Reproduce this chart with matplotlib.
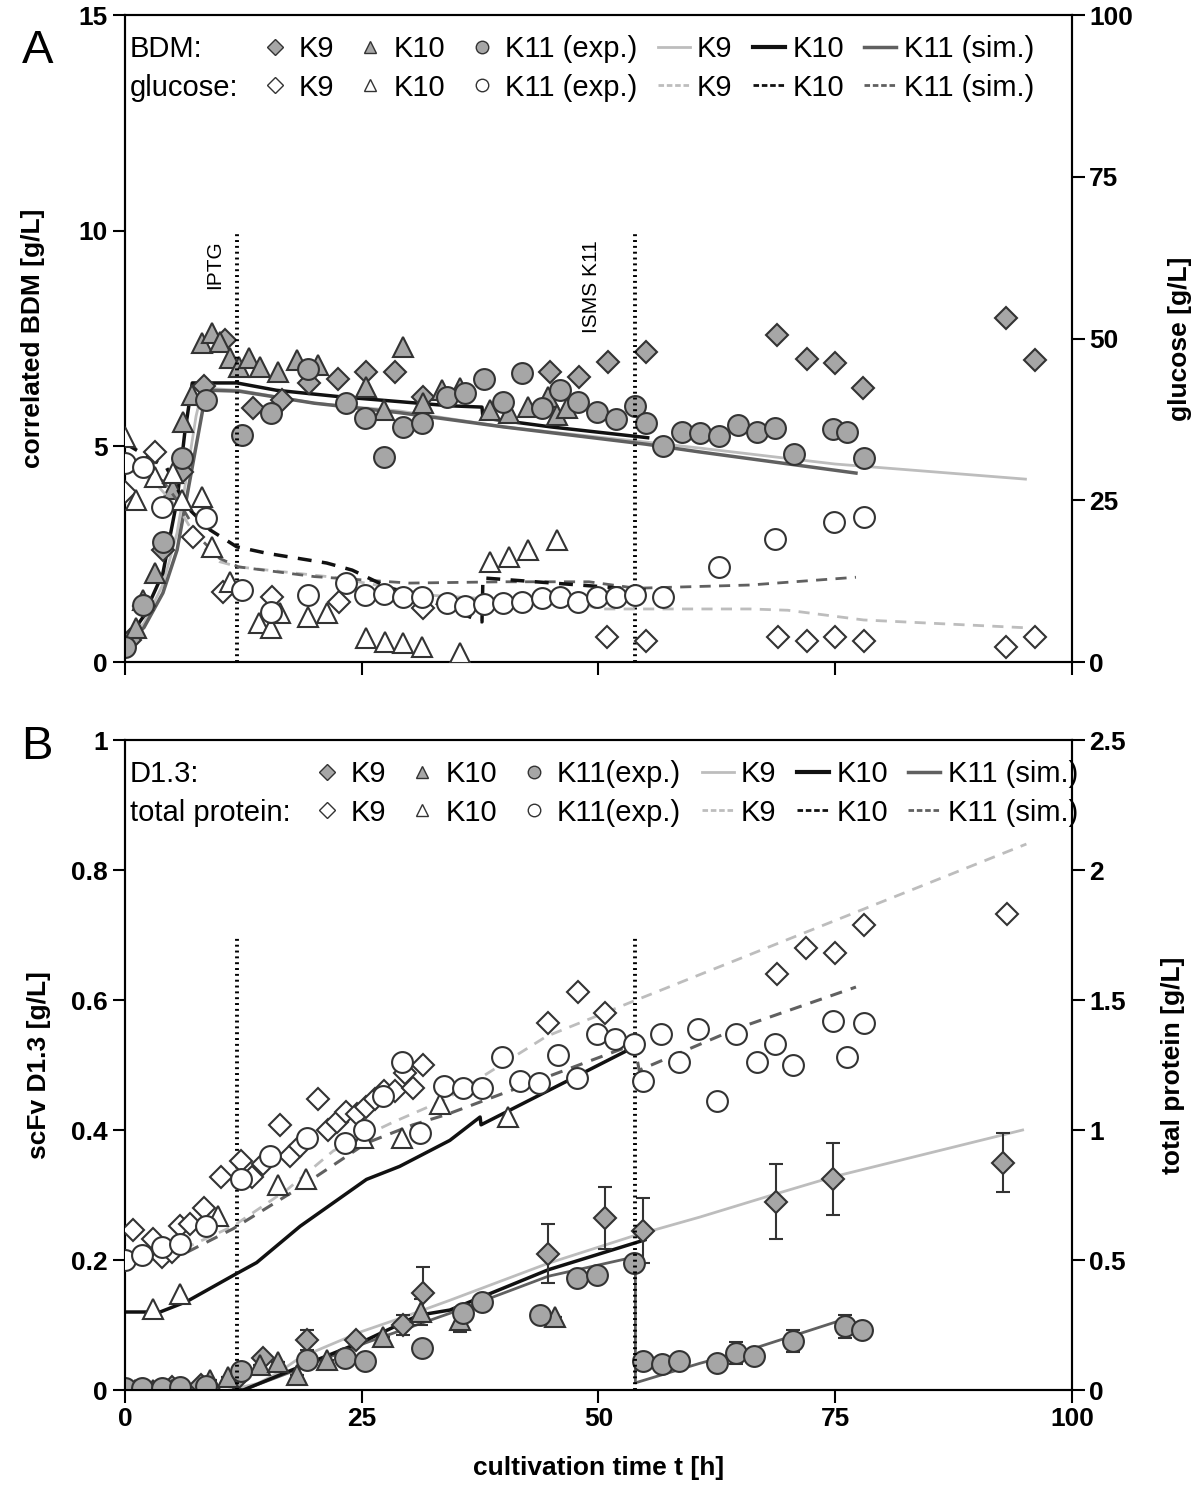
import numpy as np
import matplotlib
matplotlib.use("Agg")
import matplotlib.pyplot as plt
from matplotlib.lines import Line2D

plt.rcParams['font.family'] = ['Liberation Sans', 'DejaVu Sans']

# ---------------- Panel A: biomass (left) and glucose (right) ----------------
# experimental BDM [g/L]
bdm_k9_t = [0.5, 2, 4, 6, 8.3, 10.6, 13.5, 16.6, 19.4, 22.5, 25.5, 28.5, 31.5,
            44.9, 47.9, 51.0, 55.0, 68.9, 72.0, 75.0, 77.9, 93.0, 96.1]
bdm_k9 = [0.5, 1.3, 2.6, 4.4, 6.4, 7.47, 5.9, 6.07, 6.47, 6.56, 6.73, 6.73, 6.15,
          6.73, 6.6, 6.95, 7.19, 7.58, 7.02, 6.93, 6.36, 7.97, 7.0]
bdm_k10_t = [1.2, 1.9, 3.2, 5.1, 6.1, 7.1, 8.1, 9.2, 10.0, 11.1, 12.0, 13.1, 14.3,
             16.2, 18.2, 20.4, 25.5, 27.3, 29.4, 31.5, 33.5, 35.4, 38.5, 40.6,
             42.6, 44.7, 45.6, 46.7]
bdm_k10 = [0.79, 1.43, 2.06, 4.0, 5.56, 6.19, 7.4, 7.63, 7.42, 7.05, 6.85, 7.05, 6.85,
           6.73, 7.0, 6.89, 6.38, 5.84, 7.3, 6.0, 6.3, 6.35, 5.84, 5.77,
           5.92, 6.15, 5.73, 5.9]
bdm_k11_t = [0, 1.9, 4.0, 6.0, 8.6, 12.4, 15.4, 19.3, 23.3, 25.3, 27.3, 29.4, 31.4,
             34.0, 35.9, 37.9, 39.9, 41.9, 44.0, 45.9, 47.8, 49.9, 51.9, 53.9,
             55.0, 56.8, 58.8, 60.7, 62.7, 64.7, 66.7, 68.7, 70.7, 74.8, 76.3, 78.0]
bdm_k11 = [0.35, 1.32, 2.78, 4.73, 6.07, 5.26, 5.77, 6.8, 6.0, 5.66, 4.75, 5.45, 5.54,
           6.15, 6.23, 6.56, 6.03, 6.7, 5.9, 6.3, 6.03, 5.8, 5.63, 5.94,
           5.54, 5.0, 5.33, 5.3, 5.23, 5.5, 5.33, 5.43, 4.82, 5.4, 5.33, 4.73]

# experimental glucose [g/L]
glc_k9_t = [0, 3.2, 7.2, 10.3, 15.5, 22.6, 31.5, 50.9, 55.0, 69.0, 72.0, 75.0, 78.0, 93.0, 96.1]
glc_k9 = [26.3, 32.5, 19.3, 10.8, 10.0, 9.3, 8.3, 3.9, 3.3, 3.9, 3.3, 3.9, 3.3, 2.3, 3.9]
glc_k10_t = [0, 1.2, 3.2, 5.1, 6.0, 8.1, 9.2, 11.1, 14.1, 15.4, 16.4, 19.3, 21.3,
             25.5, 27.5, 29.4, 31.4, 35.4, 38.5, 40.6, 42.6, 45.6]
glc_k10 = [34.8, 25.0, 28.6, 29.2, 25.0, 25.5, 17.8, 12.4, 6.0, 5.2, 7.6, 7.0, 7.6,
           3.7, 3.1, 2.9, 2.3, 1.4, 15.5, 16.2, 17.3, 18.9]
glc_k11_t = [0, 1.9, 3.9, 8.6, 12.4, 15.4, 19.3, 23.3, 25.3, 27.3, 29.4, 31.4, 34.0,
             35.9, 37.9, 39.9, 41.9, 44.0, 45.9, 47.8, 49.9, 51.9, 53.9, 56.8,
             62.7, 68.7, 74.9, 78.0]
glc_k11 = [30.8, 30.2, 24.0, 22.3, 11.1, 7.8, 10.3, 12.2, 10.3, 10.5, 10.1, 10.1, 9.1,
           8.7, 9.0, 9.1, 9.3, 9.9, 10.0, 9.3, 10.0, 10.0, 10.4, 10.0,
           14.7, 19.0, 21.6, 22.4]

# simulated BDM
sim_bdm_k9_t = [0, 2, 4, 5.5, 6.5, 7.5, 8.2, 12, 20, 29, 40, 55, 60.7, 75, 95.1]
sim_bdm_k9 = [0.45, 0.9, 1.8, 3.0, 4.3, 5.7, 6.35, 6.3, 6.0, 5.82, 5.45, 5.1, 4.96, 4.59, 4.24]
sim_bdm_k10_t = [0, 1.9, 4.0, 5.5, 6.3, 7.1, 11.8, 16, 22.7, 34.3, 37.7, 37.8, 45, 55.2]
sim_bdm_k10 = [0.44, 1.04, 2.06, 3.76, 5.3, 6.47, 6.47, 6.3, 6.15, 5.94, 5.91, 5.66, 5.45, 5.2]
sim_bdm_k11_t = [0, 2, 4, 5.5, 6.5, 7.5, 8.5, 9, 12, 20, 29, 40, 55, 60.7, 77.2]
sim_bdm_k11 = [0.4, 0.8, 1.6, 2.6, 3.8, 5.0, 6.2, 6.3, 6.28, 6.0, 5.78, 5.45, 5.05, 4.87, 4.38]

# simulated glucose
sim_glc_k9_t = [0, 3, 6, 8, 10, 12, 22, 32.5, 48.8, 50, 66, 70, 78, 95]
sim_glc_k9 = [30, 28, 23, 18, 15.5, 14.7, 13.1, 10.3, 8.8, 8.2, 8.2, 8.0, 6.5, 5.3]
sim_glc_k10_t = [0, 4.4, 6.5, 9, 11.8, 15, 21.3, 24, 27.7, 32.5, 37.7, 37.8, 48, 55.2]
sim_glc_k10 = [33.8, 30, 24, 20.4, 17.8, 16.8, 15.3, 14.2, 11.6, 9.3, 6.2, 13.0, 11.9, 11.1]
sim_glc_k11_t = [0, 4, 6, 8, 10, 12, 20, 30, 40, 49, 54, 66, 77.2]
sim_glc_k11 = [31, 28, 24, 19, 16, 14.7, 13.2, 12.2, 12.4, 12.4, 11.4, 11.9, 13.1]

# ---------------- Panel B: scFv D1.3 (left) and total protein (right) --------
d13_k9_t = [0, 2, 5, 8, 12, 14.6, 19.2, 24.4, 29.4, 31.5, 44.7, 50.7, 54.7, 68.8, 74.8, 92.7]
d13_k9 = [0.0, 0.0, 0.005, 0.008, 0.02, 0.05, 0.077, 0.077, 0.10, 0.15, 0.21, 0.265,
          0.245, 0.29, 0.325, 0.35]
d13_k9_err = [0, 0, 0, 0, 0, 0, 0.015, 0, 0.015, 0.04, 0.045, 0.048, 0.05, 0.058, 0.055, 0.045]
d13_k10_t = [1, 3, 5, 9, 10.9, 14.3, 16.2, 18.2, 21.3, 27.2, 31.3, 35.4, 45.4]
d13_k10 = [0.0, 0.0, 0.0, 0.015, 0.02, 0.038, 0.043, 0.023, 0.046, 0.082, 0.12, 0.108, 0.113]
d13_k10_err = [0, 0, 0, 0, 0, 0, 0, 0, 0, 0, 0.02, 0.018, 0]
d13_k11_t = [0, 1.8, 3.9, 5.8, 8.6, 12.3, 19.2, 23.2, 25.3, 31.4, 35.7, 37.7, 43.8,
             47.7, 49.8, 53.8, 54.7, 56.7, 58.5, 62.5, 64.5, 66.4, 70.5, 76.0, 77.8]
d13_k11 = [0.003, 0.003, 0.003, 0.004, 0.006, 0.03, 0.046, 0.049, 0.044, 0.065, 0.118,
           0.136, 0.115, 0.172, 0.177, 0.195, 0.044, 0.04, 0.045, 0.042, 0.057, 0.053,
           0.076, 0.098, 0.092]
d13_k11_err = [0, 0, 0, 0, 0, 0, 0, 0, 0, 0, 0, 0, 0,
               0, 0, 0, 0, 0, 0, 0, 0.017, 0, 0.017, 0.018, 0]

tp_k9_t = [0.85, 3.0, 3.9, 5.0, 5.8, 6.9, 8.3, 10.1, 12.3, 13.4, 14.6, 16.4, 17.4, 18.5,
           20.4, 21.4, 22.4, 23.3, 24.5, 25.5, 26.4, 27.3, 28.5, 29.6, 30.4, 31.5,
           44.7, 47.8, 50.7, 68.9, 71.9, 75.0, 78.0, 93.1]
tp_k9 = [0.615, 0.58, 0.51, 0.53, 0.63, 0.64, 0.70, 0.82, 0.88, 0.82, 0.87, 1.02, 0.90, 0.94,
         1.12, 1.0, 1.03, 1.07, 1.06, 1.09, 1.12, 1.15, 1.15, 1.22, 1.16, 1.25,
         1.41, 1.53, 1.45, 1.60, 1.70, 1.68, 1.79, 1.83]
tp_k10_t = [3.0, 5.8, 9.8, 16.2, 19.1, 25.1, 29.3, 33.3, 40.5]
tp_k10 = [0.31, 0.37, 0.67, 0.79, 0.81, 0.97, 0.97, 1.10, 1.05]
tp_k11_t = [0, 1.8, 3.9, 5.8, 8.6, 12.2, 15.3, 19.2, 23.2, 25.2, 27.2, 29.2, 31.2, 33.7,
            35.7, 37.7, 39.8, 41.7, 43.7, 45.7, 47.7, 49.8, 51.7, 53.8, 54.7, 56.6,
            58.5, 60.5, 62.5, 64.5, 66.7, 68.6, 70.6, 74.8, 76.3, 78.0]
tp_k11 = [0.5, 0.52, 0.55, 0.56, 0.63, 0.81, 0.90, 0.97, 0.95, 1.0, 1.13, 1.26, 0.99, 1.17,
          1.16, 1.16, 1.28, 1.19, 1.18, 1.29, 1.20, 1.37, 1.35, 1.33, 1.19, 1.37,
          1.26, 1.39, 1.11, 1.37, 1.26, 1.33, 1.25, 1.42, 1.28, 1.41]

sim_d13_k9_t = [11, 14, 16, 18.5, 25, 29, 34.3, 44.7, 53.9, 60.7, 68.8, 74.8, 94.8]
sim_d13_k9 = [0.0, 0.01, 0.025, 0.05, 0.09, 0.11, 0.138, 0.195, 0.238, 0.266, 0.302, 0.328, 0.40]
sim_d13_k10_t = [11.5, 12.5, 18.5, 25.5, 31, 34.3, 44.7, 54.9]
sim_d13_k10 = [0.0, 0.0, 0.036, 0.077, 0.115, 0.123, 0.185, 0.231]
sim_d13_k11_t = [11.5, 12.5, 18.5, 25.5, 34.3, 44.7, 53.9, 53.9, 60.7, 66, 76.2]
sim_d13_k11 = [0.0, 0.0, 0.033, 0.073, 0.118, 0.175, 0.205, 0.011, 0.041, 0.062, 0.11]

sim_tp_k9_t = [4.5, 6, 11.4, 17.1, 22, 28.3, 34, 44.5, 54, 95.2]
sim_tp_k9 = [0.5, 0.54, 0.63, 0.77, 0.92, 1.03, 1.12, 1.36, 1.5, 2.10]
sim_tp_k10_t = [0, 3.7, 6.5, 11.4, 13.9, 18.5, 25.5, 29, 34.3, 37.5, 37.6, 53.8]
sim_tp_k10 = [0.3, 0.3, 0.34, 0.44, 0.49, 0.63, 0.81, 0.86, 0.96, 1.05, 1.02, 1.32]
sim_tp_k11_t = [4.5, 6, 11.4, 18.5, 25.5, 30.4, 34, 53.8, 54.3, 64.6, 77.2]
sim_tp_k11 = [0.5, 0.52, 0.62, 0.78, 0.95, 1.02, 1.06, 1.33, 1.23, 1.39, 1.55]

t_iptg = 11.8
t_isms = 53.9

# ---------------- styling ----------------
grey_fill = '#a6a6a6'
edge = '#333333'
c9, c10, c11 = '#bdbdbd', '#111111', '#606060'
bold = dict(fontsize=19, fontweight='bold')
ms_d, ms_t, ms_o = 11.5, 15, 15


def style_axes(ax, ax2):
    for a in (ax, ax2):
        a.tick_params(direction='out', length=9, width=1.5, labelsize=19)
        for lab in a.get_yticklabels() + a.get_xticklabels():
            lab.set_fontweight('bold')
        for s in a.spines.values():
            s.set_linewidth(1.5)


def exp_points(ax, t, y, marker, filled, ms, yerr=None):
    fc = grey_fill if filled else 'white'
    if yerr is not None:
        ax.errorbar(t, y, yerr=yerr, fmt='none', ecolor=edge, elinewidth=1.5,
                    capsize=5, capthick=1.5, zorder=3)
    ax.plot(t, y, ls='none', marker=marker, ms=ms, mfc=fc, mec=edge, mew=1.5, zorder=4)


def make_legend(ax, row1, row2, lab1, lab2, fs):
    blank = Line2D([], [], ls='none')
    mk = dict(ls='none', mec=edge, mew=1.0)
    handles = [blank, blank,
               Line2D([], [], marker='D', ms=8, mfc=grey_fill, **mk),
               Line2D([], [], marker='D', ms=8, mfc='white', **mk),
               Line2D([], [], marker='^', ms=9, mfc=grey_fill, **mk),
               Line2D([], [], marker='^', ms=9, mfc='white', **mk),
               Line2D([], [], marker='o', ms=9, mfc=grey_fill, **mk),
               Line2D([], [], marker='o', ms=9, mfc='white', **mk),
               Line2D([], [], color=c9, lw=2),
               Line2D([], [], color=c9, lw=2, ls=(0, (2, 1))),
               Line2D([], [], color=c10, lw=3),
               Line2D([], [], color=c10, lw=2, ls=(0, (2, 1))),
               Line2D([], [], color=c11, lw=2.5),
               Line2D([], [], color=c11, lw=2, ls=(0, (2, 1)))]
    labels = [lab1, lab2, 'K9', 'K9', 'K10', 'K10', row1, row1,
              'K9', 'K9', 'K10', 'K10', row2, row2]
    ax.legend(handles, labels, ncol=7, loc='upper left', bbox_to_anchor=(-0.058, 1.0),
              frameon=False, fontsize=fs, handlelength=1.1, handletextpad=0.25,
              columnspacing=0.7, labelspacing=0.35, borderpad=0.2)


fig = plt.figure(figsize=(12, 14.86), dpi=100)

# ======== Panel A ========
axA = fig.add_axes([0.1042, 0.5545, 0.789, 0.4354])
axA2 = axA.twinx()
axA.set_xlim(0, 100)
axA.set_ylim(0, 15)
axA2.set_ylim(0, 100)
axA.set_xticks([0, 25, 50, 75, 100])
axA.set_xticklabels([])
axA.set_yticks([0, 5, 10, 15])
axA2.set_yticks([0, 25, 50, 75, 100])

axA.plot(sim_bdm_k9_t, sim_bdm_k9, color=c9, lw=2, zorder=2)
axA.plot(sim_bdm_k11_t, sim_bdm_k11, color=c11, lw=2.5, zorder=2)
axA.plot(sim_bdm_k10_t, sim_bdm_k10, color=c10, lw=2.5, zorder=2)
axA2.plot(sim_glc_k9_t, sim_glc_k9, color=c9, lw=2, ls=(0, (4, 3)), zorder=2)
axA2.plot(sim_glc_k11_t, sim_glc_k11, color=c11, lw=2, ls=(0, (4, 3)), zorder=2)
axA2.plot(sim_glc_k10_t, sim_glc_k10, color=c10, lw=2.5, ls=(0, (4, 3)), zorder=2)

exp_points(axA, bdm_k9_t, bdm_k9, 'D', True, ms_d)
exp_points(axA, bdm_k10_t, bdm_k10, '^', True, ms_t)
exp_points(axA, bdm_k11_t, bdm_k11, 'o', True, ms_o)
exp_points(axA2, glc_k9_t, glc_k9, 'D', False, ms_d)
exp_points(axA2, glc_k10_t, glc_k10, '^', False, ms_t)
exp_points(axA2, glc_k11_t, glc_k11, 'o', False, ms_o)

for tv in (t_iptg, t_isms):
    axA.plot([tv, tv], [0, 10], color='black', lw=2.8, ls=(0, (0.5, 1.0)), zorder=5)
axA.text(t_iptg - 2.3, 9.2, 'IPTG', rotation=90, ha='center', va='center', fontsize=15)
axA.text(t_isms - 4.6, 8.7, 'ISMS K11', rotation=90, ha='center', va='center', fontsize=15)

axA.set_ylabel('correlated BDM [g/L]', labelpad=24, **bold)
axA2.set_ylabel('glucose [g/L]', labelpad=25, **bold)
style_axes(axA, axA2)
make_legend(axA2, 'K11 (exp.)', 'K11 (sim.)', 'BDM:', 'glucose:', 21)
fig.text(0.018, 0.966, 'A', fontsize=34, va='center')

# ======== Panel B ========
axB = fig.add_axes([0.1042, 0.0646, 0.789, 0.4374])
axB2 = axB.twinx()
axB.set_xlim(0, 100)
axB.set_ylim(0, 1)
axB2.set_ylim(0, 2.5)
axB.set_xticks([0, 25, 50, 75, 100])
axB.set_yticks([0, 0.2, 0.4, 0.6, 0.8, 1.0])
axB.set_yticklabels(['0', '0.2', '0.4', '0.6', '0.8', '1'])
axB2.set_yticks([0, 0.5, 1.0, 1.5, 2.0, 2.5])
axB2.set_yticklabels(['0', '0.5', '1', '1.5', '2', '2.5'])

axB.plot(sim_d13_k9_t, sim_d13_k9, color=c9, lw=2, zorder=2)
axB.plot(sim_d13_k11_t, sim_d13_k11, color=c11, lw=2, zorder=2)
axB.plot(sim_d13_k10_t, sim_d13_k10, color=c10, lw=2.5, zorder=2)
axB2.plot(sim_tp_k9_t, sim_tp_k9, color=c9, lw=2, ls=(0, (4, 3)), zorder=2)
axB2.plot(sim_tp_k11_t, sim_tp_k11, color=c11, lw=2.2, ls=(0, (4, 3)), zorder=2)
axB2.plot(sim_tp_k10_t, sim_tp_k10, color=c10, lw=2.5, zorder=2)

exp_points(axB, d13_k9_t, d13_k9, 'D', True, ms_d, d13_k9_err)
exp_points(axB, d13_k10_t, d13_k10, '^', True, ms_t, d13_k10_err)
exp_points(axB, d13_k11_t, d13_k11, 'o', True, ms_o, d13_k11_err)
exp_points(axB2, tp_k9_t, tp_k9, 'D', False, ms_d)
exp_points(axB2, tp_k10_t, tp_k10, '^', False, ms_t)
exp_points(axB2, tp_k11_t, tp_k11, 'o', False, ms_o)

for tv in (t_iptg, t_isms):
    axB.plot([tv, tv], [0, 0.7], color='black', lw=2.8, ls=(0, (0.5, 1.0)), zorder=5)

axB.set_ylabel('scFv D1.3 [g/L]', labelpad=14, **bold)
axB2.set_ylabel('total protein [g/L]', labelpad=25, **bold)
axB.set_xlabel('cultivation time t [h]', labelpad=18, **bold)
style_axes(axB, axB2)
make_legend(axB2, 'K11(exp.)', 'K11 (sim.)', 'D1.3:', 'total protein:', 21)
fig.text(0.018, 0.497, 'B', fontsize=34, va='center')

fig.savefig('out.png', dpi=100)
